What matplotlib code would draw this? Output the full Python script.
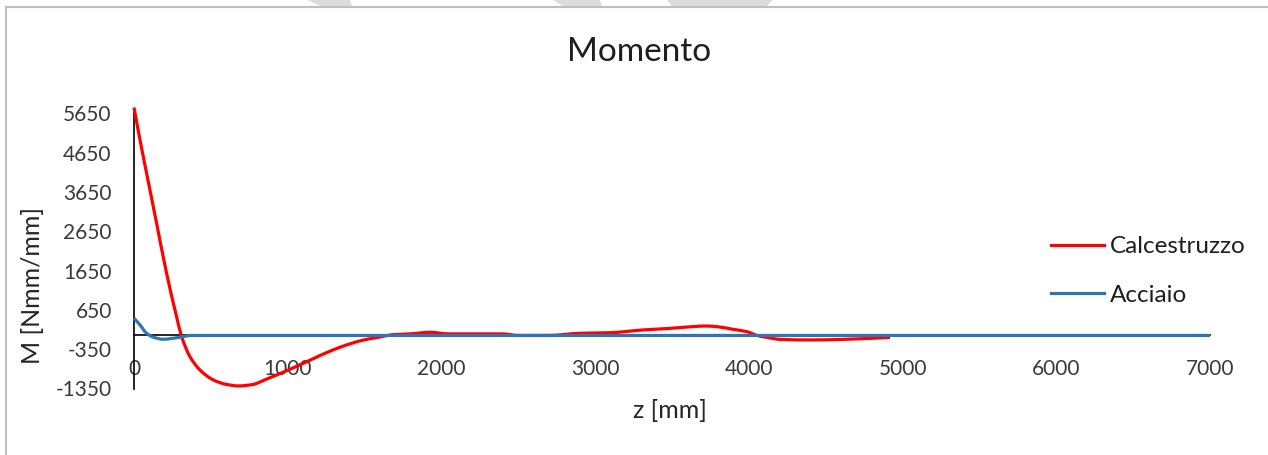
import matplotlib
matplotlib.use("Agg")
import matplotlib.pyplot as plt
from matplotlib.lines import Line2D
from matplotlib.patches import Polygon, PathPatch
from matplotlib.path import Path

plt.rcParams['font.family'] = ['Lato', 'DejaVu Sans']

# Bending moment along the beam axis
z_cls = [0, 39, 82, 147, 212, 277, 310, 364, 429, 516, 600, 680, 770, 863, 1015,
         1145, 1275, 1400, 1500, 1600, 1685, 1800, 1925, 2050, 2200, 2394, 2500,
         2700, 2902, 3097, 3312, 3487, 3637, 3720, 3800, 3897, 3988, 4053, 4118,
         4203, 4398, 4613, 4919]
m_cls = [5800, 4975, 4127, 2855, 1583, 478, -30, -540, -878, -1132, -1245, -1285,
         -1250, -1110, -860, -630, -400, -220, -110, -40, 20, 40, 80, 40, 40, 40,
         0, 0, 55, 70, 140, 180, 225, 240, 220, 155, 95, 0, -50, -100, -115, -100,
         -50]

z_acc = [0, 39, 82, 126, 191, 256, 321, 364, 7000]
m_acc = [440, 267, 55, -45, -97, -71, -30, 0, 0]

x_ticks = [0, 1000, 2000, 3000, 4000, 5000, 6000, 7000]
y_ticks = [-1350, -350, 650, 1650, 2650, 3650, 4650, 5650]

RED = '#FF0000'
BLUE = '#2E75B6'

W, H = 1268, 455
fig = plt.figure(figsize=(W / 100, H / 100), dpi=100)

def fx(px):
    return px / W

def fy(py):
    return 1 - py / H

def smooth_path(xs, ys):
    """Shape-preserving (PCHIP) cubic through the points, as Bezier segments."""
    n = len(xs)
    h = [xs[i + 1] - xs[i] for i in range(n - 1)]
    d = [(ys[i + 1] - ys[i]) / h[i] for i in range(n - 1)]
    m = [0.0] * n
    m[0], m[-1] = d[0], d[-1]
    for k in range(1, n - 1):
        if d[k - 1] * d[k] <= 0:
            m[k] = 0.0
        else:
            w1 = 2 * h[k] + h[k - 1]
            w2 = h[k] + 2 * h[k - 1]
            m[k] = (w1 + w2) / (w1 / d[k - 1] + w2 / d[k])
    verts = [(xs[0], ys[0])]
    codes = [Path.MOVETO]
    for i in range(n - 1):
        t = h[i] / 3
        verts += [(xs[i] + t, ys[i] + m[i] * t),
                  (xs[i + 1] - t, ys[i + 1] - m[i + 1] * t),
                  (xs[i + 1], ys[i + 1])]
        codes += [Path.CURVE4] * 3
    return Path(verts, codes)

ax = fig.add_axes([fx(134), fy(388.5), fx(1210) - fx(134), fy(113.4) - fy(388.5)])
ax.set_xlim(0, 7000)
ax.set_ylim(-1350, 5650)

for xs, ys, col, zo in ((z_cls, m_cls, RED, 3), (z_acc, m_acc, BLUE, 4)):
    ax.add_patch(PathPatch(smooth_path(xs, ys), facecolor='none', edgecolor=col,
                           lw=2.3, zorder=zo, clip_on=False, capstyle='butt'))

for s in ('top', 'right'):
    ax.spines[s].set_visible(False)
ax.spines['left'].set_position(('data', 0))
ax.spines['bottom'].set_position(('data', 0))
for s in ('left', 'bottom'):
    ax.spines[s].set_color('black')
    ax.spines[s].set_linewidth(1.2)
    ax.spines[s].set_zorder(2)

ax.set_xticks(x_ticks)
ax.set_yticks(y_ticks)
ax.set_xticklabels([str(v) for v in x_ticks])
ax.set_yticklabels([str(v) for v in y_ticks])
ax.tick_params(axis='both', length=0, labelsize=15, labelcolor='#3A3A3A')
ax.tick_params(axis='x', pad=17)
ax.tick_params(axis='y', pad=16)
ax.patch.set_alpha(0)

fig.text(fx(639), fy(52), 'Momento', ha='center', va='center', fontsize=24,
         color='#1E1E1E')
fig.text(fx(33), fy(285), 'M [Nmm/mm]', ha='center', va='center', rotation=90,
         fontsize=18, color='#262626')
fig.text(fx(670), fy(410), 'z [mm]', ha='center', va='center', fontsize=18,
         color='#262626')

handles = [Line2D([], [], color=RED, lw=2.3), Line2D([], [], color=BLUE, lw=2.3)]
fig.legend(handles=handles, labels=['Calcestruzzo', 'Acciaio'], loc='center left',
           bbox_to_anchor=(fx(1029), fy(271)), frameon=False, fontsize=17.5,
           handlelength=2.2, handletextpad=0.22, labelspacing=1.12,
           labelcolor='#1E1E1E')

# outer chart frame (left and top edges)
fig.add_artist(Line2D([fx(6), fx(6)], [fy(7), 0], color='#BFBFBF', lw=1.5))
fig.add_artist(Line2D([fx(6), 1], [fy(7), fy(7)], color='#BFBFBF', lw=1.5))

# light grey bands along the upper edge
for top, bot in (((307, 350), (320, 352)),
                 ((553, 600), (563, 602)),
                 ((667, 773), (672, 767))):
    pts = [(fx(top[0]), 1), (fx(top[1]), 1), (fx(bot[1]), fy(6)), (fx(bot[0]), fy(6))]
    fig.add_artist(Polygon(pts, closed=True, facecolor='#DCDCDC', edgecolor='none'))

fig.savefig('out.png', dpi=100)
